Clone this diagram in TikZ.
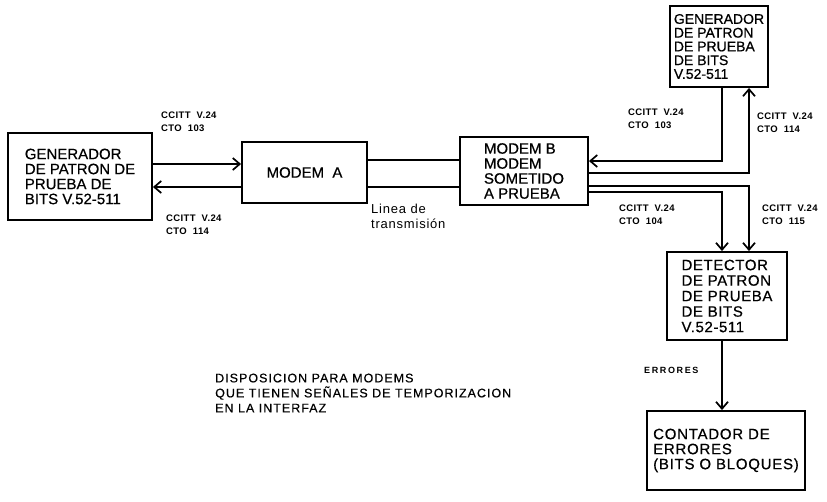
\documentclass[tikz,border=0pt]{standalone}
\usepackage{fontspec}
\setmainfont{Liberation Sans}
\usetikzlibrary{arrows.meta}
\begin{document}
\begin{tikzpicture}[x=1pt,y=-1pt,
  box/.style={draw,line width=1.9pt,align=left,inner sep=0pt,font=\fontsize{15}{15}\selectfont\addfontfeatures{FakeBold=0.6}},
  conn/.style={line width=1.7pt},
  arr/.style={conn,-{Straight Barb[length=7pt,width=12pt]}},
  lbl/.style={align=left,inner sep=0pt,anchor=west,font=\fontsize{9.5}{13}\selectfont\bfseries\addfontfeatures{LetterSpace=4}},
  plain/.style={align=left,inner sep=0pt,anchor=west},
]
\fill[white] (0,0) rectangle (827,501);
\useasboundingbox (0,0) rectangle (827,501);

% boxes
\node[box,minimum width=144pt,minimum height=87pt] (genL) at (80,176.5) {GENERADOR\\DE PATRON DE\\PRUEBA DE\\BITS V.52-511};
\node[box,minimum width=125pt,minimum height=61pt] (modA) at (304.5,172.5) {MODEM\ \ A};
\node[box,minimum width=128pt,minimum height=68pt] (modB) at (524,171) {MODEM B\\MODEM\\SOMETIDO\\A PRUEBA};
\node[box,minimum width=98pt,minimum height=81pt,font=\fontsize{14}{13.75}\selectfont\addfontfeatures{FakeBold=0.6}] (genT) at (719,46.5) {GENERADOR\\DE PATRON\\DE PRUEBA\\DE BITS\\V.52-511};
\node[box,minimum width=120pt,minimum height=88pt,font=\fontsize{15}{15.5}\selectfont\addfontfeatures{LetterSpace=4,FakeBold=0.6}] (det) at (727,296) {DETECTOR\\DE PATRON\\DE PRUEBA\\DE BITS\\V.52-511};
\node[box,minimum width=158pt,minimum height=79pt,font=\fontsize{15}{15}\selectfont\addfontfeatures{LetterSpace=5,FakeBold=0.6}] (cont) at (726,450.5) {CONTADOR DE\\ERRORES\\(BITS O BLOQUES)};

% routing helpers
\coordinate (h164) at (0,164);
\coordinate (h187) at (0,187);
\coordinate (h160) at (0,160);
\coordinate (h161) at (0,161);
\coordinate (h173) at (0,173);
\coordinate (h186) at (0,186);
\coordinate (h192) at (0,192);
\coordinate (v722) at (722,0);
\coordinate (v749) at (749,0);

% connectors
\draw[arr] (genL.east |- h164) -- (modA.west |- h164);
\draw[arr] (modA.west |- h187) -- (genL.east |- h187);
\draw[conn] (modA.east |- h160) -- (modB.west |- h160);
\draw[conn] (modA.east |- h187) -- (modB.west |- h187);
\draw[arr] (genT.south -| v722) |- (modB.east |- h161);
\draw[arr] (modB.east |- h173) -| (genT.south -| v749);
\draw[arr] (modB.east |- h186) -| (det.north -| v749);
\draw[arr] (modB.east |- h192) -| (det.north -| v722);
\draw[arr] (det.south -| v722) -- (cont.north -| v722);

% labels
\node[lbl] (l103a) at (161,121.5) {CCITT\ \ V.24\\CTO\ \ 103};
\node[lbl] (l114a) at (166,225) {CCITT\ \ V.24\\CTO\ \ 114};
\node[lbl] (l103b) at (628,118.5) {CCITT\ \ V.24\\CTO\ \ 103};
\node[lbl] (l114b) at (757,123) {CCITT\ \ V.24\\CTO\ \ 114};
\node[lbl] (l104) at (619,215) {CCITT\ \ V.24\\CTO\ \ 104};
\node[lbl] (l115) at (762,215) {CCITT\ \ V.24\\CTO\ \ 115};
\node[lbl,font=\fontsize{9}{13}\selectfont\bfseries\addfontfeatures{LetterSpace=18}] (lerr) at (644,370) {ERRORES};
\node[plain,font=\fontsize{13}{15}\selectfont\addfontfeatures{LetterSpace=6}] (linea) at (371,216.5) {Linea de\\transmisión};
\node[plain,font=\fontsize{12.5}{15}\selectfont\addfontfeatures{LetterSpace=8,FakeBold=0.4}] (caption) at (215,393) {DISPOSICION PARA MODEMS\\QUE TIENEN SEÑALES DE TEMPORIZACION\\EN LA INTERFAZ};
\end{tikzpicture}
\end{document}
